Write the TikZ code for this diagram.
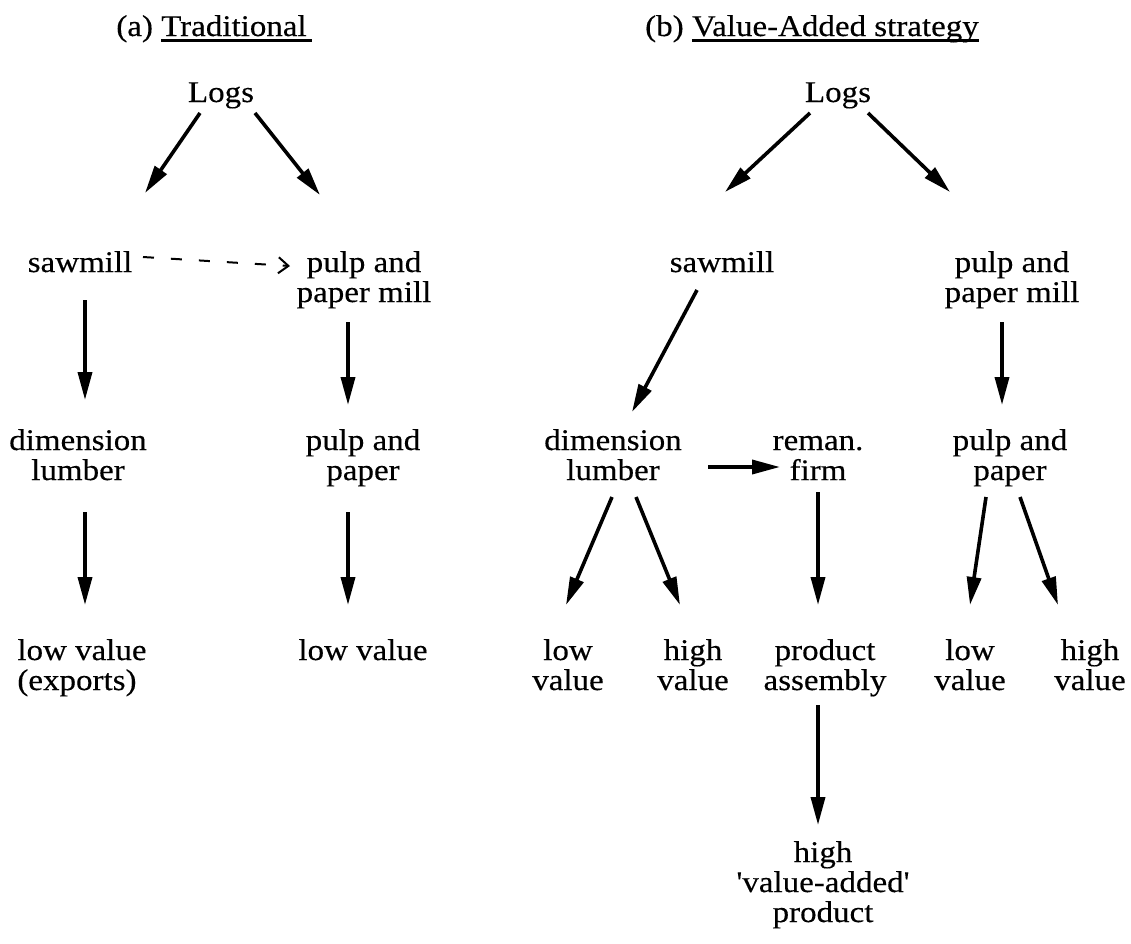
\documentclass[tikz,border=0pt]{standalone}
\usepackage{fontspec}
\setmainfont{Liberation Serif}[FakeStretch=1.1,FakeBold=0.3]
\newfontfamily\qfont{Liberation Serif}[FakeStretch=1.1,FakeBold=0.3,Ligatures=TeXOff]
\usetikzlibrary{arrows.meta}
\newcommand\myul[1]{\setbox0\hbox{#1}\rlap{\rule[-6pt]{\wd0}{2.8pt}}\box0}
\newcommand\mlc[1]{\begin{tabular}[t]{@{}c@{}}#1\end{tabular}}
\newcommand\mll[1]{\begin{tabular}[t]{@{}l@{}}#1\end{tabular}}
\newcommand\sq{{\qfont\symbol{39}}}
\tikzset{
  lbl/.style={anchor=base, inner sep=0pt, font=\fontsize{30}{30}\selectfont},
  arr/.style={line width=3.6pt, -{Triangle[length=28pt,width=14pt]}},
  dasharr/.style={line width=2pt, dash pattern=on 11pt off 17pt, -{Straight Barb[length=10pt,width=16pt,line width=2pt]}}
}
\begin{document}
\begin{tikzpicture}[x=1pt,y=-1pt]
\useasboundingbox[fill=white] (0,0) rectangle (1131,943);
% titles
\node[lbl] (titleA) at (214,36) {(a) \myul{Traditional\,}};
\node[lbl] (titleB) at (812,36) {(b) \myul{Value-Added strategy}};
% (a) nodes
\node[lbl] (logsA) at (221,102) {Logs};
\node[lbl] (sawA) at (80,272) {sawmill};
\node[lbl] (pulpA) at (364,272) {\mlc{pulp and\\paper mill}};
\node[lbl] (dimA) at (78,450) {\mlc{dimension\\lumber}};
\node[lbl] (pulpA2) at (363,450) {\mlc{pulp and\\paper}};
\node[lbl] (lowA) at (82,660) {\mll{low value\\(exports)}};
\node[lbl] (lowA2) at (363,660) {low value};
% (b) nodes
\node[lbl] (logsB) at (838,102) {Logs};
\node[lbl] (sawB) at (722,272) {sawmill};
\node[lbl] (pulpB) at (1012,272) {\mlc{pulp and\\paper mill}};
\node[lbl] (dimB) at (613,450) {\mlc{dimension\\lumber}};
\node[lbl] (remanB) at (818,450) {\mlc{reman.\\firm}};
\node[lbl] (pulpB2) at (1010,450) {\mlc{pulp and\\paper}};
\node[lbl] (lowB1) at (568,660) {\mlc{low\\value}};
\node[lbl] (highB1) at (693,660) {\mlc{high\\value}};
\node[lbl] (prodB) at (825,660) {\mlc{product\\assembly}};
\node[lbl] (lowB2) at (970,660) {\mlc{low\\value}};
\node[lbl] (highB2) at (1090,660) {\mlc{high\\value}};
\node[lbl] (finalB) at (823,862) {\mlc{high\\\sq value-added\sq\\product}};
% (a) connectors
\draw[arr] ([shift={(-21,11)}]logsA.base) -- ([shift={(65,-79)}]sawA.base);
\draw[arr] ([shift={(34,11)}]logsA.base) -- ([shift={(-44,-77)}]pulpA.base);
\draw[dasharr] ([shift={(63,-15)}]sawA.base) -- ([shift={(-74,-6)}]pulpA.base);
\draw[arr] ([shift={(5,28)}]sawA.base) -- ([shift={(7,-50)}]dimA.base);
\draw[arr] ([shift={(7,62)}]dimA.base) -- ([shift={(3,-55)}]lowA.base);
\draw[arr] ([shift={(-16,50)}]pulpA.base) -- ([shift={(-15,-45)}]pulpA2.base);
\draw[arr] ([shift={(-15,62)}]pulpA2.base) -- ([shift={(-15,-55)}]lowA2.base);
% (b) connectors
\draw[arr] ([shift={(-28,11)}]logsB.base) -- ([shift={(3,-80)}]sawB.base);
\draw[arr] ([shift={(30,11)}]logsB.base) -- ([shift={(-62,-80)}]pulpB.base);
\draw[arr] ([shift={(-25,18)}]sawB.base) -- ([shift={(19,-38)}]dimB.base);
\draw[arr] ([shift={(-10,50)}]pulpB.base) -- ([shift={(-8,-45)}]pulpB2.base);
\draw[arr] ([shift={(95,17)}]dimB.base) -- ([shift={(-38,17)}]remanB.base);
\draw[arr] ([shift={(-1,47)}]dimB.base) -- ([shift={(-2,-55)}]lowB1.base);
\draw[arr] ([shift={(23,47)}]dimB.base) -- ([shift={(-13,-55)}]highB1.base);
\draw[arr] ([shift={(0,42)}]remanB.base) -- ([shift={(-7,-55)}]prodB.base);
\draw[arr] ([shift={(-24,47)}]pulpB2.base) -- ([shift={(0,-55)}]lowB2.base);
\draw[arr] ([shift={(10,47)}]pulpB2.base) -- ([shift={(-32,-55)}]highB2.base);
\draw[arr] ([shift={(-7,45)}]prodB.base) -- ([shift={(-5,-37)}]finalB.base);
\end{tikzpicture}
\end{document}
